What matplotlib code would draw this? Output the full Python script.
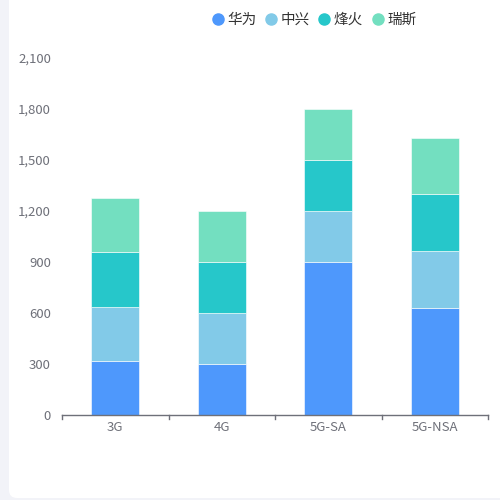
import numpy as np
import matplotlib
matplotlib.use("Agg")
import matplotlib.pyplot as plt
from matplotlib.patches import FancyBboxPatch
from matplotlib.lines import Line2D

plt.rcParams['font.family'] = ['Noto Sans CJK SC', 'DejaVu Sans']

# Data
categories = ["3G", "4G", "5G-SA", "5G-NSA"]
series_names = ["华为", "中兴", "烽火", "瑞斯"]
huawei = [320, 300, 900, 630]
zte = [318, 300, 300, 335]
fiberhome = [318, 300, 300, 335]
ruisi = [318, 300, 300, 330]
y_ticks = [0, 300, 600, 900, 1200, 1500, 1800, 2100]

colors = ["#4E98FC", "#82CAE8", "#26C7CA", "#73DFC0"]
text_gray = "#6E7079"

fig = plt.figure(figsize=(5, 5), dpi=100)
fig.patch.set_facecolor("#F2F3F8")

# white card with rounded corners
card = FancyBboxPatch((0.018, 0.004), 1.1, 1.1, boxstyle="round,pad=0,rounding_size=0.016",
                      transform=fig.transFigure, facecolor="white", edgecolor="none", zorder=-5)
fig.patches.append(card)

ax = fig.add_axes([0.124, 0.17, 0.852, 0.714])
ax.set_facecolor("none")

x = np.arange(len(categories))
bottom = np.zeros(len(categories))
for name, vals, c in zip(series_names, [huawei, zte, fiberhome, ruisi], colors):
    ax.bar(x, vals, width=0.45, bottom=bottom, color=c, edgecolor="#FFFFFF",
           linewidth=0.4, label=name, zorder=2)
    bottom += np.array(vals)

ax.set_xlim(-0.5, len(categories) - 0.5)
ax.set_ylim(0, 2100)
ax.set_yticks(y_ticks)
ax.set_yticklabels([f"{v:,}" for v in y_ticks], color=text_gray, fontsize=9.5)
ax.set_xticks(x)
ax.set_xticklabels(categories, color=text_gray, fontsize=9.5)
ax.tick_params(axis="y", length=0, pad=8)
ax.tick_params(axis="x", length=0, pad=4)

# boundary ticks between categories
for b in np.arange(-0.5, len(categories), 1.0):
    ax.plot([b, b], [0, -0.012], transform=ax.get_xaxis_transform(), color=text_gray,
            linewidth=1, clip_on=False)

for s in ["top", "right", "left"]:
    ax.spines[s].set_visible(False)
ax.spines["bottom"].set_color(text_gray)
ax.spines["bottom"].set_linewidth(1)

handles = [Line2D([0], [0], marker="o", linestyle="none", markersize=8,
                  markerfacecolor=c, markeredgecolor=c) for c in colors]
fig.legend(handles, series_names, loc="center", bbox_to_anchor=(0.628, 0.96), ncol=4,
           frameon=False, fontsize=10.5, handlelength=0.8, handletextpad=0.25,
           columnspacing=0.6, labelcolor="#333333")

fig.savefig("out.png", dpi=100)
